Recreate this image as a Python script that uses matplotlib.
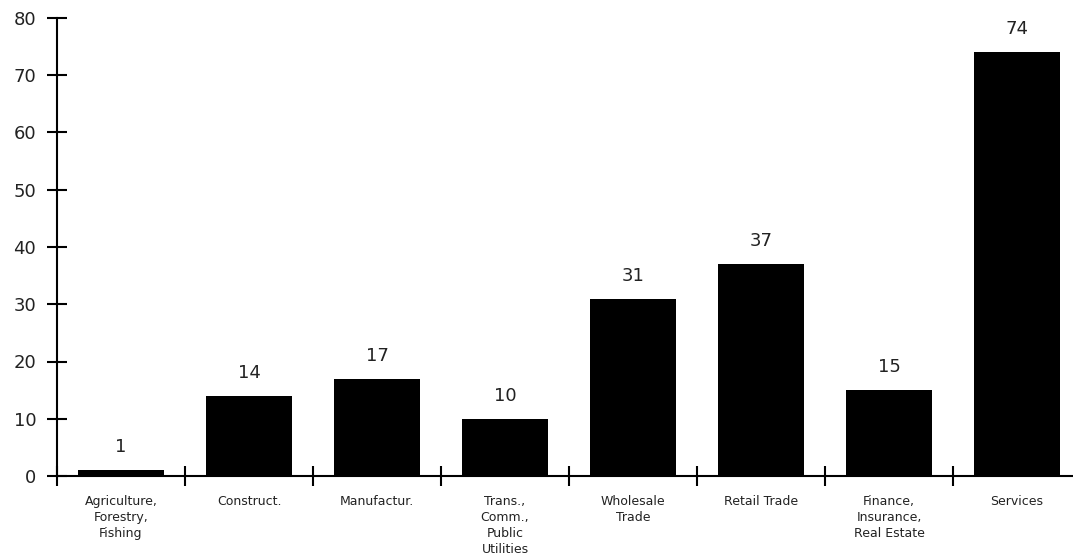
import matplotlib
matplotlib.use('Agg')
from matplotlib import pyplot as plt
import numpy as np

# Categories and values
categories = ["Agriculture,\nForestry,\nFishing", "Construct.", "Manufactur.",
              "Trans.,\nComm.,\nPublic\nUtilities", "Wholesale\nTrade", "Retail Trade",
              "Finance,\nInsurance,\nReal Estate", "Services"]
values = [1, 14, 17, 10, 31, 37, 15, 74]
y_ticks = [0, 10, 20, 30, 40, 50, 60, 70, 80]

fig = plt.figure(figsize=(10.73, 5.59), dpi=100)
ax = fig.add_axes([57 / 1073, 83 / 559, 1024 / 1073, 458 / 559])

x = np.arange(len(categories))
ax.bar(x, values, width=0.67, color="black")

for xi, v in zip(x, values):
    ax.annotate(str(v), (xi, v), xytext=(0, 10), textcoords="offset points",
                ha="center", va="bottom", fontsize=13, color="#222222")

ax.set_xlim(-0.5, 7.5)
ax.set_ylim(0, 80)

for side in ["top", "right"]:
    ax.spines[side].set_visible(False)
ax.spines["left"].set_linewidth(1.5)
ax.spines["bottom"].set_linewidth(1.5)

ax.set_yticks(y_ticks)
ax.set_yticklabels([str(t) for t in y_ticks], fontsize=13, color="#222222")
ax.tick_params(axis="y", direction="inout", length=14, width=1.5, pad=8)

# ticks at category boundaries, labels at centers
ax.set_xticks(np.arange(len(categories)) - 0.5)
ax.set_xticklabels([])
ax.set_xticks(x, minor=True)
ax.set_xticklabels(categories, minor=True, fontsize=9, color="#222222",
                   linespacing=1.3, va="top")
ax.tick_params(axis="x", which="major", direction="inout", length=14, width=1.5)
ax.tick_params(axis="x", which="minor", length=0, pad=14)

fig.savefig("out.png", dpi=100)
